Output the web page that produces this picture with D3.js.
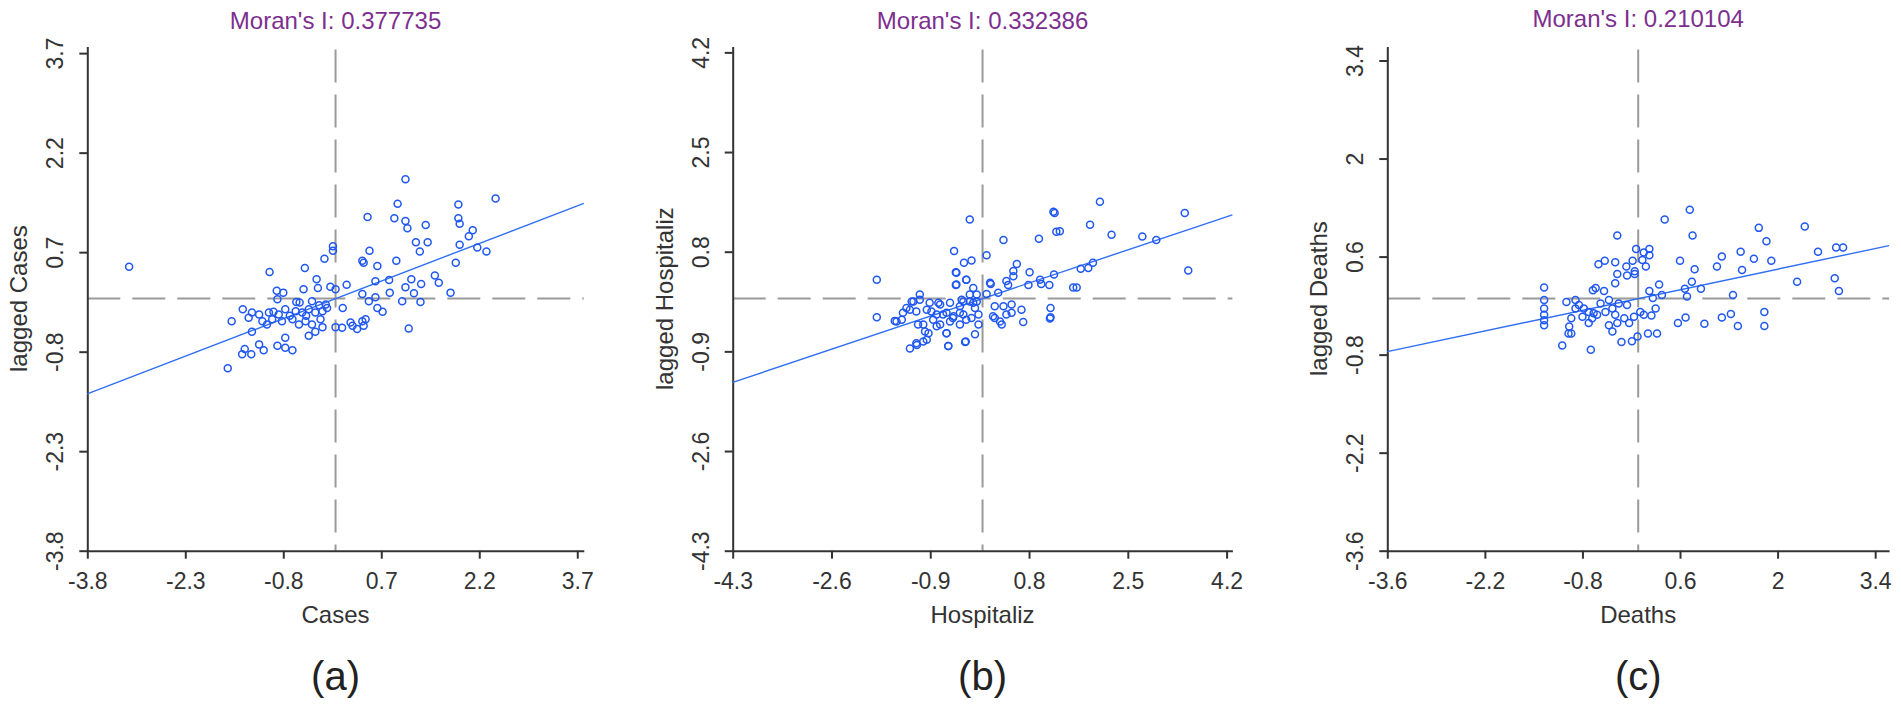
<!DOCTYPE html>
<html>
<head>
<meta charset="utf-8">
<script src="https://cdn.jsdelivr.net/npm/d3@7"></script>
<style>
  body { margin: 0; background: #fff; }
  svg { display: block; }
  text { font-family: "Liberation Sans", Arial, sans-serif; }
</style>
</head>
<body>
<svg id="chart" width="1901" height="705"></svg>
<script>
// values
let panelLetters = ["(a)", "(b)", "(c)"];
let varNames = ["Cases", "Hospitaliz", "Deaths"];
let moranI = [0.377735, 0.332386, 0.210104];

let ticksCases = ["-3.8", "-2.3", "-0.8", "0.7", "2.2", "3.7"];
let ticksHosp = ["-4.3", "-2.6", "-0.9", "0.8", "2.5", "4.2"];
let ticksDeaths = ["-3.6", "-2.2", "-0.8", "0.6", "2", "3.4"];

// [standardised value, spatial lag]
let casesPts = [
  [1.07,1.80],[2.45,1.51],[1.88,1.42],[0.95,1.43],[0.49,1.23],[0.90,1.21],[1.07,1.17],[1.10,1.06],
  [1.38,1.11],[1.88,1.21],[1.90,1.13],[2.10,1.03],[2.04,0.94],[1.23,0.85],[1.41,0.85],[1.29,0.71],
  [1.90,0.81],[2.17,0.77],[2.31,0.71],[1.84,0.54],[-0.04,0.79],[-0.04,0.72],[-0.17,0.60],[0.52,0.72],
  [0.41,0.57],[0.43,0.54],[0.64,0.49],[0.93,0.57],[-0.47,0.46],[-1.01,0.40],[-0.29,0.29],[0.17,0.21],
  [0.61,0.26],[0.82,0.28],[1.16,0.29],[1.31,0.22],[1.52,0.35],[1.58,0.24],[1.76,0.09],[1.07,0.17],
  [1.02,-0.04],[1.30,-0.05],[1.20,0.08],[0.83,0.09],[0.41,0.07],[0.51,-0.04],[0.61,0.02],[0.64,-0.14],
  [0.72,-0.20],[0.11,-0.14],[0.00,0.14],[-0.08,0.18],[-0.27,0.16],[-0.49,0.14],[-0.90,0.12],[-0.80,0.09],
  [-0.89,-0.01],[-0.55,-0.06],[-0.36,-0.04],[-0.15,-0.09],[-1.42,-0.16],[-1.59,-0.34],[-1.28,-0.21],[-1.17,-0.24],
  [-1.02,-0.21],[-0.87,-0.24],[-0.77,-0.16],[-0.61,-0.19],[-0.51,-0.21],[-0.41,-0.16],[-0.31,-0.21],[-0.20,-0.19],
  [-0.13,-0.14],[-1.33,-0.29],[-1.12,-0.34],[-0.97,-0.31],[-0.82,-0.34],[-0.66,-0.31],[-0.56,-0.39],[-0.46,-0.34],
  [-0.36,-0.39],[-0.23,-0.31],[-1.05,-0.39],[-1.28,-0.50],[-0.41,-0.56],[-0.31,-0.50],[-0.20,-0.43],[0.00,-0.43],
  [0.10,-0.44],[0.26,-0.41],[0.33,-0.46],[0.43,-0.41],[0.46,-0.31],[0.41,-0.34],[1.12,-0.45],[0.23,-0.36],
  [-1.17,-0.69],[-0.89,-0.71],[-0.77,-0.59],[-0.66,-0.78],[-1.39,-0.76],[-1.10,-0.78],[-1.43,-0.84],[-1.65,-1.05],
  [-1.29,-0.84],[-0.77,-0.74],[-3.16,0.48],[-0.95,-0.20],[-0.70,-0.26],[-0.45,-0.26],[-0.25,-0.10],[-0.60,-0.05]
];

let hospPts = [
  [2.02,1.65],[1.22,1.48],[1.24,1.46],[3.48,1.46],[-0.22,1.35],[1.85,1.26],[1.33,1.15],[1.27,1.14],
  [2.22,1.09],[0.97,1.02],[0.36,1.00],[2.75,1.06],[2.99,1.00],[-0.49,0.81],[0.07,0.74],[-0.19,0.65],
  [-0.32,0.61],[0.59,0.59],[1.90,0.61],[1.82,0.52],[1.69,0.51],[3.54,0.48],[-0.46,0.45],[0.81,0.45],
  [0.53,0.47],[1.23,0.41],[-1.82,0.32],[-0.28,0.32],[0.53,0.38],[0.99,0.32],[0.79,0.23],[1.15,0.23],
  [1.62,0.19],[1.56,0.19],[1.01,0.25],[-0.46,0.23],[-0.16,0.18],[0.14,0.25],[0.44,0.23],[0.41,0.30],
  [0.07,0.08],[-0.10,0.07],[0.27,0.10],[-0.36,-0.02],[-0.22,-0.05],[-1.08,0.07],[-1.08,-0.02],[-1.22,-0.05],
  [-0.91,-0.07],[-0.73,-0.10],[-0.56,-0.07],[-0.39,-0.13],[-0.16,-0.07],[-0.13,-0.16],[0.21,-0.13],[0.36,-0.13],
  [0.50,-0.10],[0.67,-0.19],[1.17,-0.16],[1.17,-0.32],[1.16,-0.34],[-1.82,-0.32],[-1.48,-0.39],[-1.37,-0.24],
  [-1.25,-0.19],[-1.14,-0.22],[-0.96,-0.19],[-0.79,-0.27],[-0.62,-0.24],[-0.50,-0.30],[-0.33,-0.27],[-0.19,-0.33],
  [-0.07,-0.27],[-0.07,-0.44],[0.18,-0.30],[0.30,-0.39],[0.33,-0.44],[0.50,-0.24],[0.70,-0.40],[-1.11,-0.44],
  [-0.99,-0.56],[-0.93,-0.59],[-0.73,-0.44],[-0.62,-0.59],[-0.13,-0.61],[-0.30,-0.74],[-0.59,-0.81],[-1.25,-0.85],
  [-1.14,-0.76],[-1.02,-0.73],[-1.39,-0.36],[-0.85,-0.36],[-0.56,-0.39],[-0.39,-0.44],
  [-1.19,-0.05],[-1.31,-0.16],[-1.51,-0.38],[-0.88,-0.22],[-0.76,-0.07],[-0.68,-0.27],[-0.51,-0.33],[-0.39,-0.24],
  [-0.33,-0.05],[-0.28,-0.36],[-0.22,0.07],[-0.10,-0.05],[-1.02,-0.44],[-0.79,-0.47],[-0.62,-0.59],[-0.96,-0.70],
  [-1.13,-0.79],[-0.29,-0.73],[-0.59,-0.81],[0.13,0.27],[-0.45,0.44],[-0.45,0.24],[-0.28,0.32],[0.41,-0.27],
  [0.21,-0.33]
];

let deathsPts = [
  [0.74,1.27],[0.38,1.13],[0.78,0.90],[-0.30,0.90],[1.73,1.01],[2.39,1.03],[1.84,0.82],[-0.03,0.71],
  [0.08,0.66],[0.16,0.71],[0.16,0.62],[0.06,0.55],[0.11,0.46],[-0.08,0.54],[-0.17,0.46],[-0.33,0.52],
  [-0.48,0.54],[-0.57,0.49],[-0.30,0.35],[-0.16,0.33],[-0.05,0.35],[-0.05,0.39],[-0.33,0.22],[0.60,0.54],
  [0.81,0.42],[1.13,0.46],[1.20,0.60],[1.47,0.67],[1.66,0.57],[1.91,0.54],[1.49,0.41],[2.58,0.67],
  [2.84,0.73],[2.94,0.73],[2.28,0.24],[2.82,0.29],[2.88,0.11],[0.77,0.24],[0.67,0.14],[0.90,0.14],
  [0.70,0.03],[1.36,0.05],[0.30,0.20],[0.16,0.11],[0.21,0.01],[0.34,0.05],[0.25,-0.14],[0.19,-0.24],
  [0.08,-0.23],[0.68,-0.27],[0.57,-0.35],[0.95,-0.36],[1.20,-0.27],[1.33,-0.22],[1.43,-0.39],[1.81,-0.19],
  [1.81,-0.39],[0.14,-0.50],[0.27,-0.50],[-0.01,-0.54],[-0.09,-0.61],[-0.24,-0.62],[-1.09,-0.67],[-0.68,-0.73],
  [-1.00,-0.50],[-0.96,-0.50],[-0.99,-0.40],[-1.35,0.16],[-1.35,-0.02],[-1.35,-0.14],[-1.35,-0.23],[-1.35,-0.31],
  [-1.35,-0.38],[-0.65,0.12],[-0.49,0.11],[-0.61,0.15],[-1.03,-0.05],[-0.90,-0.02],[-0.85,-0.09],[-0.78,-0.14],
  [-0.71,-0.19],[-0.64,-0.21],[-0.59,-0.23],[-0.80,-0.26],[-0.71,-0.35],[-0.96,-0.28],[-0.42,-0.02],[-0.28,-0.07],
  [-0.16,-0.09],[-0.37,-0.14],[-0.47,-0.19],[-0.33,-0.23],[-0.20,-0.28],[-0.13,-0.35],[-0.42,-0.38],[-0.37,-0.47],
  [-0.30,-0.35],[-0.06,-0.26],[0.03,-0.19],[-0.54,-0.07],[-0.66,-0.28],[-0.90,-0.14]
];

let tickLists = [ticksCases, ticksHosp, ticksDeaths];
let pointLists = [casesPts, hospPts, deathsPts];

// where each panel sits on the page
let layout = [
  {left: 87.3, width: 496.5, titleY: 29},
  {left: 732.7, width: 499.7, titleY: 29},
  {left: 1387.3, width: 501.8, titleY: 27}
];
let plotTop = 46.5;
let plotBottom = 550.7;

let svg = d3.select("#chart");

for (let i = 0; i < 3; i++) {
  let L = layout[i];
  let ticks = tickLists[i].map(Number);
  let m = -ticks[0];

  let x = d3.scaleLinear().domain([-m, m]).range([L.left, L.left + L.width]);
  let y = d3.scaleLinear().domain([-m, m]).range([plotBottom, plotTop]);
  let cx = L.left + L.width / 2;

  let g = svg.append("g");

  // mean lines
  g.append("line")
    .attr("x1", x(0)).attr("x2", x(0))
    .attr("y1", plotTop + 3).attr("y2", plotBottom)
    .attr("stroke", "#9a9a9a").attr("stroke-width", 2)
    .attr("stroke-dasharray", "33,12");
  g.append("line")
    .attr("x1", x(-m)).attr("x2", x(m))
    .attr("y1", y(0)).attr("y2", y(0))
    .attr("stroke", "#9a9a9a").attr("stroke-width", 2)
    .attr("stroke-dasharray", "33,12");

  // axes
  let labels = tickLists[i];
  let xAxis = g.append("g")
    .attr("transform", "translate(0," + plotBottom + ")")
    .call(d3.axisBottom(x).tickValues(ticks).tickSize(8).tickSizeOuter(0)
      .tickFormat((d, k) => labels[k]));
  let yAxis = g.append("g")
    .attr("transform", "translate(" + L.left + ",0)")
    .call(d3.axisLeft(y).tickValues(ticks).tickSize(8).tickSizeOuter(0)
      .tickFormat((d, k) => labels[k]));

  [xAxis, yAxis].forEach(function(ax) {
    ax.select(".domain").attr("stroke", "#333").attr("stroke-width", 2);
    ax.selectAll(".tick line").attr("stroke", "#333").attr("stroke-width", 2);
    ax.selectAll(".tick text")
      .attr("fill", "#333")
      .style("font-size", "23px");
  });
  xAxis.selectAll(".tick text").attr("y", 38).attr("dy", 0);
  yAxis.selectAll(".tick text")
    .attr("x", 0).attr("dy", 0)
    .attr("text-anchor", "middle")
    .attr("transform", "translate(-24,0) rotate(-90)");

  // regression line, slope = Moran's I
  g.append("line")
    .attr("x1", x(-m)).attr("y1", y(-m * moranI[i]))
    .attr("x2", x(m)).attr("y2", y(m * moranI[i]))
    .attr("stroke", "#2f6ff2").attr("stroke-width", 1.4);

  // points
  g.append("g").selectAll("circle")
    .data(pointLists[i])
    .join("circle")
    .attr("cx", d => x(d[0]))
    .attr("cy", d => y(d[1]))
    .attr("r", 3.5)
    .attr("fill", "none")
    .attr("stroke", "#1f57f0")
    .attr("stroke-width", 1.5);

  // texts
  g.append("text")
    .attr("x", x(0)).attr("y", L.titleY)
    .attr("text-anchor", "middle")
    .attr("fill", "#7d2f8f")
    .style("font-size", "24px")
    .text("Moran's I: " + moranI[i].toFixed(6));

  g.append("text")
    .attr("x", cx).attr("y", 623)
    .attr("text-anchor", "middle")
    .attr("fill", "#333")
    .style("font-size", "24px")
    .text(varNames[i]);

  g.append("text")
    .attr("transform", "translate(" + (L.left - 60) + "," + ((plotTop + plotBottom) / 2) + ") rotate(-90)")
    .attr("text-anchor", "middle")
    .attr("fill", "#333")
    .style("font-size", "24px")
    .text("lagged " + varNames[i]);

  g.append("text")
    .attr("x", cx).attr("y", 690)
    .attr("text-anchor", "middle")
    .attr("fill", "#222")
    .style("font-size", "40px")
    .text(panelLetters[i]);
}
</script>
</body>
</html>
